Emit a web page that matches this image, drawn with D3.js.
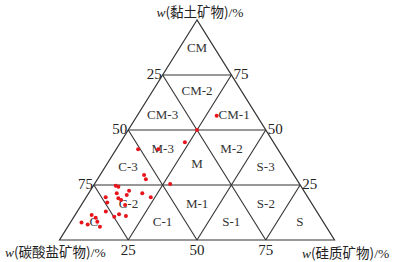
<!DOCTYPE html>
<html><head><meta charset="utf-8">
<script src="https://cdn.jsdelivr.net/npm/d3@7"></script>
<style>html,body{margin:0;padding:0;background:#fff;}svg{display:block;}</style>
</head><body>
<svg id="chart" width="400" height="262"></svg>
<script>
// sample compositions (%)
const clay      = [56.5,50.0,44.4,41.2,41.2,29.5,27.6,25.5,24.7,24.2,22.4,21.2,20.5,21.2,19.4,19.4,19.0,18.2,17.1,15.9,12.9,11.7,10.6,10.9,11.4,10.1,8.3,8.0,7.1,6.0];
const carbonate = [14.6,25.0,32.2,43.5,50.8,54.5,54.8,47.0,67.2,66.5,63.5,68.6,65.3,59.3,57.1,73.5,69.1,68.5,74.1,68.2,76.7,72.5,74.8,70.4,82.6,81.8,82.1,88.0,86.2,82.3];
const silica    = [28.9,25.0,23.4,15.3,8.0,16.0,17.6,27.5,8.1,9.3,14.1,10.2,14.2,19.5,23.5,7.1,11.9,13.3,8.8,15.9,10.4,15.8,14.6,18.7,6.0,8.1,9.6,4.0,6.7,11.7];

const gridValues = [25, 50, 75];
const tickLabels = ["25", "50", "75"];
const regionNames = ["CM","CM-3","CM-2","CM-1","C-3","M-3","M","M-2","S-3","C","C-2","C-1","M-1","S-1","S-2","S"];
// label anchor compositions [clay, silica]
const regionClay   = [87.5, 57.0, 68.0, 57.0, 33.3, 41.7, 35.0, 41.7, 33.3, 8.3, 16.7, 8.3, 16.7, 8.3, 16.7, 8.3];
const regionSilica = [6.25, 9.0, 16.0, 35.0, 8.3, 16.7, 32.5, 41.7, 58.3, 8.3, 16.7, 33.3, 41.7, 58.3, 66.7, 83.3];
const axisTitles = ["黏土矿物", "碳酸盐矿物", "硅质矿物"];

const svg = d3.select("#chart");
const xS = d3.scaleLinear().domain([0,100]).range([59.5,334.5]);
const yS = d3.scaleLinear().domain([0,100]).range([240,20]);
const P = (c, s) => [xS(s + c/2), yS(c)];

const lineCol = "#333";
const g = svg.append("g");

// outer triangle
const outer = [P(100,0), P(0,0), P(0,100)];
g.append("path").attr("d", d3.line()(outer) + "Z")
  .attr("fill","none").attr("stroke",lineCol).attr("stroke-width",1.2);

// grid lines
gridValues.forEach(v => {
  const segs = [
    [P(v,0), P(v,100-v)],          // clay = v
    [P(0,v), P(100-v,v)],          // silica = v
    [P(0,100-v), P(100-v,0)]       // carbonate = v
  ];
  segs.forEach(sg => g.append("path").attr("d", d3.line()(sg))
    .attr("fill","none").attr("stroke",lineCol).attr("stroke-width",1.1));
});

// tick labels
const serif = "'Liberation Serif','Times New Roman',serif";
gridValues.forEach((v,i) => {
  const pl = P(100-v, 0);   // left side: carbonate = v
  g.append("text").attr("x", pl[0]-1).attr("y", pl[1]-1).attr("dy","0.32em")
    .attr("text-anchor","end").attr("font-family",serif).attr("font-size",15).attr("fill","#222")
    .text(tickLabels[i]);
  const pr = P(v, 100-v);   // right side: clay = v
  g.append("text").attr("x", pr[0]+2).attr("y", pr[1]-1).attr("dy","0.32em")
    .attr("text-anchor","start").attr("font-family",serif).attr("font-size",15).attr("fill","#222")
    .text(tickLabels[i]);
  const pb = P(0, v);       // bottom: silica = v
  g.append("text").attr("x", pb[0]).attr("y", pb[1]+10).attr("dy","0.32em")
    .attr("text-anchor","middle").attr("font-family",serif).attr("font-size",15).attr("fill","#222")
    .text(tickLabels[i]);
});

// region labels
regionNames.forEach((n,i) => {
  const p = P(regionClay[i], regionSilica[i]);
  g.append("text").attr("x", p[0]).attr("y", p[1]).attr("dy","0.35em")
    .attr("text-anchor","middle").attr("font-family",serif).attr("font-size",13).attr("fill","#333")
    .text(n);
});

// axis titles
function title(x, y, name, anchor) {
  const t = svg.append("text").attr("x", x).attr("y", y).attr("text-anchor", anchor)
    .attr("font-size", 13.5).attr("fill","#222").attr("font-family", serif);
  t.append("tspan").attr("font-style","italic").text("w");
  t.append("tspan").attr("font-family","'Noto Sans CJK SC',sans-serif").text("(" + name + ")");
  t.append("tspan").text("/%");
}
title(200, 17, axisTitles[0], "middle");
title(5, 257, axisTitles[1], "start");
title(302, 258, axisTitles[2], "start");

// points
g.selectAll("circle.pt").data(clay.map((c,i) => ({c, k: carbonate[i], s: silica[i]})))
  .enter().append("circle")
  .attr("cx", d => P(d.c, d.s)[0]).attr("cy", d => P(d.c, d.s)[1])
  .attr("r", 2).attr("fill", "#e8141c");
</script>
</body></html>
